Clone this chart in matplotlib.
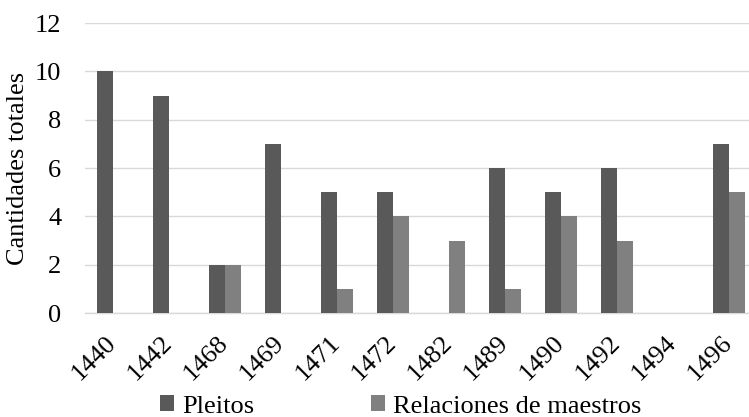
import matplotlib
matplotlib.use('Agg')
import matplotlib.pyplot as plt
import numpy as np

# Data
years = ['1440', '1442', '1468', '1469', '1471', '1472', '1482', '1489', '1490', '1492', '1494', '1496']
pleitos = [10, 9, 2, 7, 5, 5, 0, 6, 5, 6, 0, 7]
relaciones = [0, 0, 2, 0, 1, 4, 3, 1, 4, 3, 0, 5]
y_ticks = [0, 2, 4, 6, 8, 10, 12]

plt.rcParams['font.family'] = ['Liberation Serif', 'DejaVu Serif']
fs = 19

fig = plt.figure(figsize=(7.49, 4.17), dpi=100)
ax = fig.add_axes([0.1135, 0.2494, 0.8865, 0.6954])

x = np.arange(len(years))
w = 0.29
ax.bar(x - w / 2, pleitos, w, color='#595959', label='Pleitos', zorder=3)
ax.bar(x + w / 2, relaciones, w, color='#808080', label='Relaciones de maestros', zorder=3)

# Axis limits (right side of the chart is cut off in the image)
ax.set_xlim(-0.5, 11.36)
ax.set_ylim(0, 12)
ax.set_yticks(y_ticks)
ax.set_yticklabels([str(v) for v in y_ticks], fontsize=fs)
ax.yaxis.grid(True, color='#d9d9d9', linewidth=1, zorder=0)

ax.set_xticks(x)
ax.set_xticklabels(years, fontsize=fs, rotation=45, ha='right', va='center', rotation_mode='anchor')
ax.tick_params(axis='both', length=0)
ax.tick_params(axis='y', pad=17)
ax.tick_params(axis='x', pad=19)

for s in ['top', 'right', 'left']:
    ax.spines[s].set_visible(False)
ax.spines['bottom'].set_color('#d9d9d9')
ax.spines['bottom'].set_linewidth(1)

ax.set_ylabel('Cantidades totales', fontsize=fs)
ax.yaxis.set_label_coords(-0.084, 0.5)

# Legend at the bottom
fig.legend(loc='center', bbox_to_anchor=(0.535, 0.025), ncol=2, frameon=False,
           fontsize=fs, handlelength=0.55, handleheight=0.55, handletextpad=0.3, columnspacing=4.4)

plt.savefig('out.png', dpi=100)
